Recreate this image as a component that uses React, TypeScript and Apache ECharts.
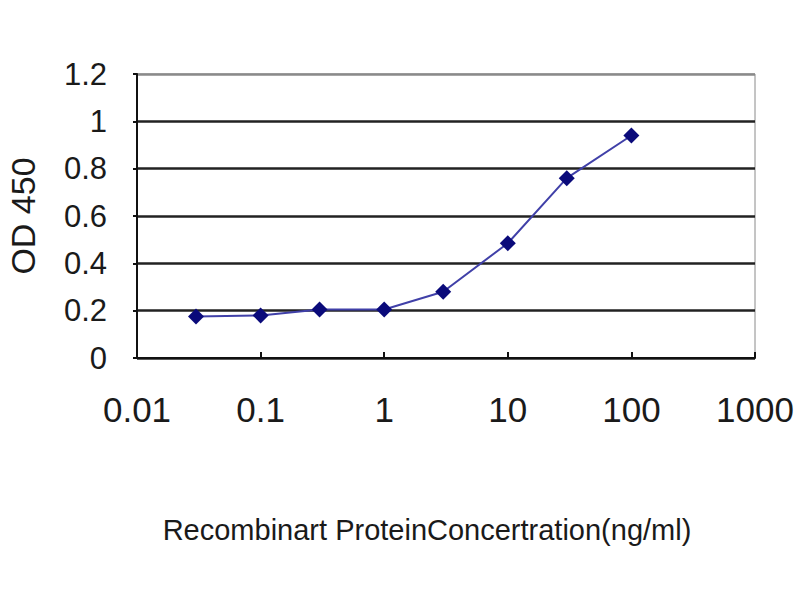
import { useEffect, useRef } from "react";
import * as echarts from "echarts";

// 浓度 (ng/ml) 与 OD450 读数
const concentrations = [0.03, 0.1, 0.3, 1, 3, 10, 30, 100];
const odValues = [0.175, 0.18, 0.205, 0.205, 0.28, 0.485, 0.76, 0.94];

const FONT = "'Liberation Sans', Arial, sans-serif";

export default function App() {
  const chartRef = useRef<HTMLDivElement>(null);

  useEffect(() => {
    if (!chartRef.current) return;
    const chart = echarts.init(chartRef.current, undefined, { renderer: "svg" });

    chart.setOption({
      animation: false,
      backgroundColor: "#ffffff",
      grid: {
        left: 137,
        top: 74,
        width: 618,
        height: 284,
        outerBoundsMode: "none",
        containLabel: false,
        show: true,
        borderColor: "#8a8a8a",
        borderWidth: 1,
      },
      xAxis: {
        type: "log",
        logBase: 10,
        min: 0.01,
        max: 1000,
        name: "Recombinart ProteinConcertration(ng/ml)",
        nameLocation: "middle",
        nameGap: 157,
        nameTextStyle: {
          fontFamily: FONT,
          fontSize: 29,
          color: "#1a1a1a",
          padding: [0, 38, 0, 0],
        },
        axisLine: { lineStyle: { color: "#111", width: 2 } },
        axisTick: { inside: true, length: 6, lineStyle: { color: "#111", width: 2 } },
        minorTick: { show: false },
        splitLine: { show: false },
        axisLabel: {
          fontFamily: FONT,
          fontSize: 35,
          color: "#1a1a1a",
          margin: 34,
          formatter: (v: number) => String(v),
        },
      },
      yAxis: {
        type: "value",
        min: 0,
        max: 1.2,
        interval: 0.2,
        name: "OD 450",
        nameLocation: "middle",
        nameGap: 97,
        nameRotate: 90,
        nameTextStyle: { fontFamily: FONT, fontSize: 34, color: "#1a1a1a" },
        axisLine: { show: true, lineStyle: { color: "#111", width: 2 } },
        axisTick: { show: true, length: 4, lineStyle: { color: "#111", width: 2 } },
        splitLine: {
          lineStyle: {
            color: ["#222", "#222", "#222", "#222", "#222", "#222", "#8a8a8a"],
            width: 2.5,
          },
        },
        axisLabel: {
          fontFamily: FONT,
          fontSize: 31,
          color: "#1a1a1a",
          margin: 30,
          formatter: (v: number) => String(Math.round(v * 10) / 10),
        },
      },
      series: [
        {
          type: "line",
          data: concentrations.map((c, i) => [c, odValues[i]]),
          symbol: "diamond",
          symbolSize: 16,
          lineStyle: { color: "#4040a8", width: 2 },
          itemStyle: { color: "#0a0a7a" },
        },
      ],
    });

    return () => chart.dispose();
  }, []);

  return (
    <div
      ref={chartRef}
      style={{ position: "absolute", left: 0, top: 0, width: 800, height: 600 }}
    />
  );
}
